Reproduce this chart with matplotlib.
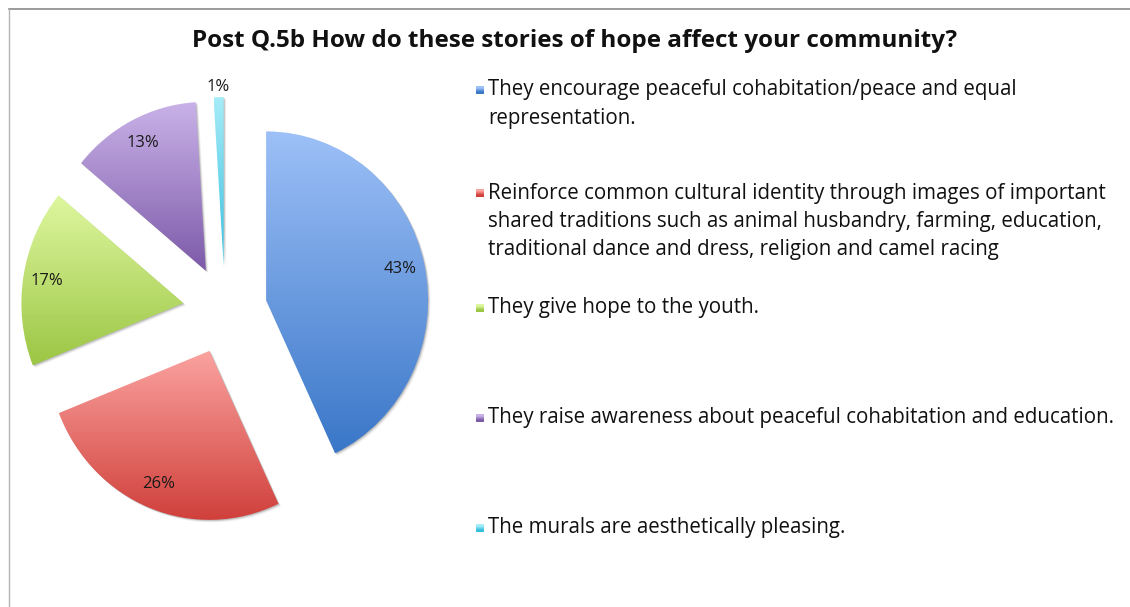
import numpy as np
import matplotlib
matplotlib.use("Agg")
import matplotlib.pyplot as plt
from matplotlib.colors import to_rgb
from matplotlib.lines import Line2D
from matplotlib.patches import Wedge

plt.rcParams['font.family'] = ['Open Sans', 'DejaVu Sans']

title = "Post Q.5b How do these stories of hope affect your community?"
answers = [
    "They encourage peaceful cohabitation/peace and equal\nrepresentation.",
    "Reinforce common cultural identity through images of important\n"
    "shared traditions such as animal husbandry, farming, education,\n"
    "traditional dance and dress, religion and camel racing",
    "They give hope to the youth.",
    "They raise awareness about peaceful cohabitation and education.",
    "The murals are aesthetically pleasing.",
]
shares = [43, 26, 17, 13, 1]

# light (top) and dark (bottom) end of each slice's gradient
grad_top = ["#9dc0f7", "#fba3a0", "#def79f", "#c9b2e8", "#a6ecf8"]
grad_bottom = ["#3a77c8", "#d0403b", "#9cc644", "#7d5aa9", "#37bfe0"]

W, H = 1130, 607
fig = plt.figure(figsize=(W / 100, H / 100), dpi=100)

# pie axes: unit radius, slightly taller than wide
cx, cy = 225, 310          # pie centre in pixels from top-left
rx, ry = 162, 169          # pixel radius horizontally / vertically
axp = fig.add_axes([0, 0, 1, 1])
wedges, _ = axp.pie(shares, radius=1, startangle=90, counterclock=False,
                    explode=[0.26] * len(shares))
axp.set_aspect('auto')
axp.axis('off')

t = np.linspace(0, 1, 256)[:, None]
for w, share, top, bot in zip(wedges, shares, grad_top, grad_bottom):
    # soft drop shadow down and to the right
    for k, a in [(2.5, 0.06), (1.5, 0.10), (0.8, 0.12)]:
        axp.add_patch(Wedge((w.center[0] + k / rx, w.center[1] - k / ry), w.r,
                            w.theta1, w.theta2, facecolor='#000000', alpha=a,
                            edgecolor='none', zorder=1))

    verts = w.get_path().vertices
    x0, y0 = verts.min(axis=0)
    x1, y1 = verts.max(axis=0)
    cols = (1 - t) * np.array(to_rgb(top)) + t * np.array(to_rgb(bot))
    img = axp.imshow(cols[:, None, :], extent=(x0, x1, y0, y1), origin='upper',
                     aspect='auto', interpolation='bilinear', zorder=2)
    img.set_clip_path(w)
    w.set_facecolor('none')
    w.set_edgecolor('none')

    # percentage label on the bisector, small slices pushed outside
    mid = np.deg2rad((w.theta1 + w.theta2) / 2)
    d = 1.06 if share < 5 else 0.85
    axp.text(w.center[0] + d * w.r * np.cos(mid), w.center[1] + d * w.r * np.sin(mid),
             f"{share}%", ha='center', va='center', fontsize=12, color='#1a1a1a', zorder=5)

axp.set_xlim(-cx / rx, (W - cx) / rx)
axp.set_ylim(-(H - cy) / ry, cy / ry)

# pixel-coordinate axes for title, legend and border
ax = fig.add_axes([0, 0, 1, 1])
ax.set_xlim(0, W)
ax.set_ylim(0, H)
ax.axis('off')

# chart area border
ax.add_line(Line2D([9, W], [H - 9, H - 9], color='#8a8a8a', lw=1.2))
ax.add_line(Line2D([9, 9], [0, H - 9], color='#b5b5b5', lw=1.0))

ax.text(575, H - 41, title, ha='center', va='center',
        fontsize=17.5, fontweight='bold', color='#111111')

# legend
item_y = [90, 193, 308, 418, 528]
line_gap = 28.5
for label, y, top, bot in zip(answers, item_y, grad_top, grad_bottom):
    cols = np.array([to_rgb(top), to_rgb(bot)])
    ax.imshow(cols[:, None, :], extent=(476, 484, H - y - 4, H - y + 4),
              origin='upper', aspect='auto', interpolation='bilinear', zorder=3)
    for i, line in enumerate(label.split("\n")):
        ax.text(488, H - y - i * line_gap, line, ha='left', va='center',
                fontsize=14.8, color='#111111')

ax.set_xlim(0, W)
ax.set_ylim(0, H)

fig.savefig("out.png", dpi=100)
